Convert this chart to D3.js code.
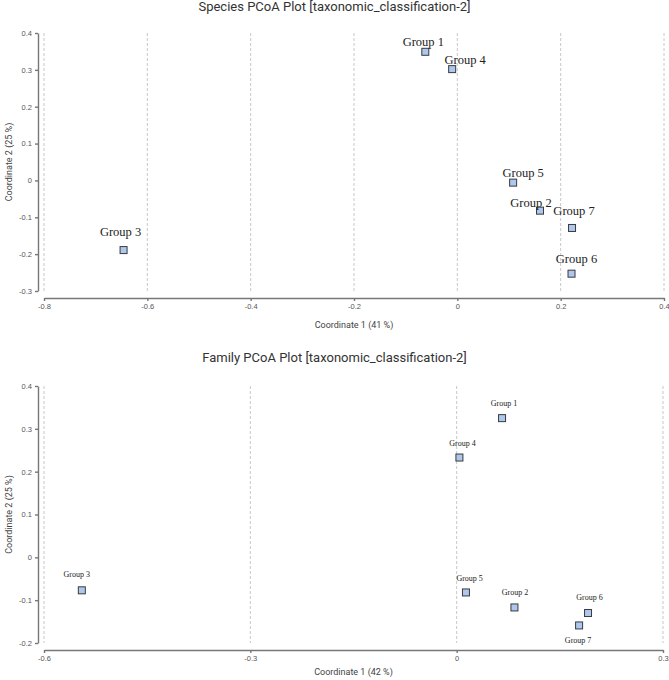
<!DOCTYPE html>
<html>
<head>
<meta charset="utf-8">
<script src="https://cdn.jsdelivr.net/npm/d3@7"></script>
<style>
  body { margin: 0; background: #fff; }
  .tick text { font-family: "Liberation Sans", Arial, sans-serif; font-size: 7.5px; fill: #555; }
  .domain, .tick line { stroke: #777; stroke-width: 1.4; }
</style>
</head>
<body>
<div id="chart"></div>
<script>
// groups shared by both plots
const groups = ["Group 1", "Group 2", "Group 3", "Group 4", "Group 5", "Group 6", "Group 7"];

// species PCoA coordinates
const speciesX = [-0.062, 0.160, -0.646, -0.010, 0.108, 0.221, 0.222];
const speciesY = [0.349, -0.082, -0.189, 0.302, -0.006, -0.253, -0.129];
const speciesXTicks = [-0.8, -0.6, -0.4, -0.2, 0, 0.2, 0.4];
const speciesYTicks = [-0.3, -0.2, -0.1, 0, 0.1, 0.2, 0.3, 0.4];

// family PCoA coordinates
const familyX = [0.066, 0.084, -0.545, 0.004, 0.0135, 0.191, 0.178];
const familyY = [0.325, -0.117, -0.077, 0.233, -0.082, -0.130, -0.159];
const familyXTicks = [-0.6, -0.3, 0, 0.3];
const familyYTicks = [-0.2, -0.1, 0, 0.1, 0.2, 0.3, 0.4];

// label nudges (px) so the labels sit like in the original
const speciesLabelShift = [[-2, -5.4], [-9, -4], [-3, -14], [13, -5], [10, -6], [5, -10.7], [2, -13]];
const familyLabelShift = [[2, -12], [0.6, -12.4], [-5, -13], [3, -12], [3.7, -11], [1.4, -13], [-1, 18]];

const width = 669, height = 680;

const svg = d3.select("#chart").append("svg")
  .attr("width", width)
  .attr("height", height)
  .style("background", "#fff");

const fmt = d => d === 0 ? "0" : d3.format(".1f")(d).replace("−", "-");

function drawPlot(opt) {
  const g = svg.append("g");

  const x = d3.scaleLinear().domain(opt.xDomain).range([44, 664 - opt.rightTrim]);
  const y = d3.scaleLinear().domain(opt.yDomain).range([opt.bottom, opt.top]);

  // dashed vertical grid lines
  g.selectAll(".grid")
    .data(opt.xTicks)
    .enter()
    .append("line")
    .attr("x1", d => x(d))
    .attr("x2", d => x(d))
    .attr("y1", opt.top)
    .attr("y2", opt.bottom)
    .attr("stroke", "#c8c8c8")
    .attr("stroke-dasharray", "3,2");

  // axes sit a little off the plot area
  g.append("g")
    .attr("transform", `translate(38,0)`)
    .call(d3.axisLeft(y).tickValues(opt.yTicks).tickFormat(fmt).tickSize(3).tickSizeOuter(0));

  g.append("g")
    .attr("transform", `translate(0,${opt.bottom + 7})`)
    .call(d3.axisBottom(x).tickValues(opt.xTicks).tickFormat(fmt).tickSize(3).tickSizeOuter(0));

  // title
  g.append("text")
    .attr("x", width / 2)
    .attr("y", opt.titleY)
    .attr("text-anchor", "middle")
    .style("font-family", "Roboto, sans-serif")
    .style("font-size", "13px")
    .style("fill", "#333")
    .text(opt.title);

  // x-axis label
  g.append("text")
    .attr("x", (x.range()[0] + x.range()[1]) / 2)
    .attr("y", opt.xLabelY)
    .attr("text-anchor", "middle")
    .style("font-family", "Roboto, sans-serif")
    .style("font-size", "9px")
    .style("fill", "#444")
    .text(opt.xLabel);

  // y-axis label
  g.append("text")
    .attr("transform", `translate(12,${(opt.top + opt.bottom) / 2}) rotate(-90)`)
    .attr("text-anchor", "middle")
    .style("font-family", "Roboto, sans-serif")
    .style("font-size", "9px")
    .style("fill", "#444")
    .text(opt.yLabel);

  const pts = groups.map((name, i) => ({ name, x: opt.xs[i], y: opt.ys[i], shift: opt.shift[i] }));

  // points
  g.selectAll(".pt")
    .data(pts)
    .enter()
    .append("rect")
    .attr("x", d => x(d.x) - 3.5)
    .attr("y", d => y(d.y) - 3.5)
    .attr("width", 7)
    .attr("height", 7)
    .attr("fill", "#aec7ee")
    .attr("stroke", "#3a3a3a")
    .attr("stroke-width", 1);

  // labels
  g.selectAll(".lbl")
    .data(pts)
    .enter()
    .append("text")
    .attr("x", d => x(d.x) + d.shift[0])
    .attr("y", d => y(d.y) + d.shift[1])
    .attr("text-anchor", "middle")
    .style("font-family", "'Liberation Serif', 'Times New Roman', serif")
    .style("font-size", opt.labelSize)
    .style("fill", "#222")
    .text(d => d.name);
}

drawPlot({
  title: "Species PCoA Plot [taxonomic_classification-2]",
  titleY: 11,
  xLabel: "Coordinate 1 (41 %)",
  xLabelY: 328,
  yLabel: "Coordinate 2 (25 %)",
  xDomain: [-0.8, 0.4], yDomain: [-0.3, 0.4],
  xTicks: speciesXTicks, yTicks: speciesYTicks,
  top: 33, bottom: 291, rightTrim: 0,
  xs: speciesX, ys: speciesY, shift: speciesLabelShift,
  labelSize: "12.5px"
});

drawPlot({
  title: "Family PCoA Plot [taxonomic_classification-2]",
  titleY: 362,
  xLabel: "Coordinate 1 (42 %)",
  xLabelY: 675,
  yLabel: "Coordinate 2 (25 %)",
  xDomain: [-0.6, 0.3], yDomain: [-0.2, 0.4],
  xTicks: familyXTicks, yTicks: familyYTicks,
  top: 386, bottom: 643, rightTrim: 1,
  xs: familyX, ys: familyY, shift: familyLabelShift,
  labelSize: "8px"
});
</script>
</body>
</html>
